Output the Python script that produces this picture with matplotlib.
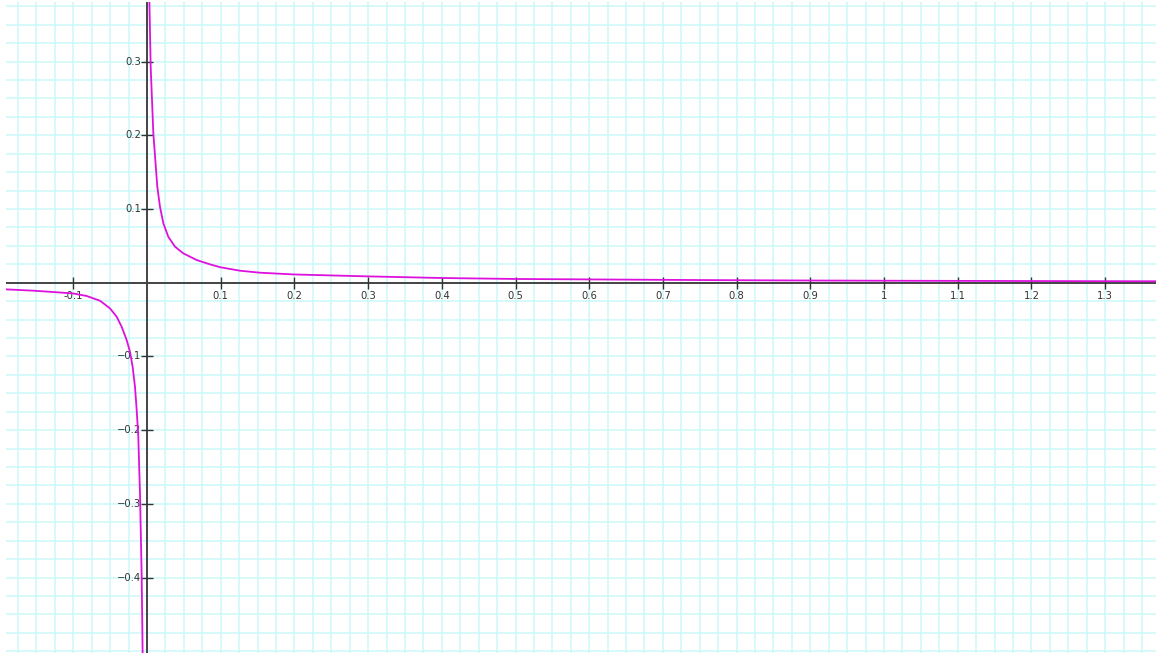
import matplotlib
matplotlib.use("Agg")
import matplotlib.pyplot as plt
from matplotlib.ticker import MultipleLocator

# curve, two branches either side of x = 0
neg_x = [-0.1913, -0.1542, -0.1271, -0.1000, -0.0819, -0.0638, -0.0502, -0.0412,
         -0.0344, -0.0276, -0.0231, -0.0195, -0.0163, -0.0140, -0.0118, -0.0095,
         -0.0072, -0.0059]
neg_y = [-0.0090, -0.0108, -0.0126, -0.0146, -0.0180, -0.0244, -0.0348, -0.0461,
         -0.0597, -0.0777, -0.0936, -0.1139, -0.1411, -0.1727, -0.2089, -0.2858,
         -0.3989, -0.5050]

pos_x = [0.0031, 0.0041, 0.0050, 0.0068, 0.0086, 0.0113, 0.0140, 0.0176, 0.0222,
         0.0289, 0.0380, 0.0493, 0.0674, 0.0855, 0.1000, 0.1262, 0.1533, 0.2,
         0.3, 0.4, 0.5, 0.6, 0.7, 0.8, 0.9, 1.0, 1.1, 1.2, 1.3, 1.37]
pos_y = [0.3900, 0.3384, 0.2931, 0.2479, 0.2027, 0.1665, 0.1303, 0.1032, 0.0806,
         0.0624, 0.0489, 0.0398, 0.0308, 0.0249, 0.0209, 0.0163, 0.0136, 0.0112,
         0.0086, 0.0064, 0.0051, 0.0045, 0.0039, 0.0034, 0.0030, 0.0027, 0.0025,
         0.0023, 0.0021, 0.0020]

x_ticks = [-0.1, 0.1, 0.2, 0.3, 0.4, 0.5, 0.6, 0.7, 0.8, 0.9, 1.0, 1.1, 1.2, 1.3]
x_labels = ["-0.1", "0.1", "0.2", "0.3", "0.4", "0.5", "0.6", "0.7", "0.8", "0.9",
            "1", "1.1", "1.2", "1.3"]
y_ticks = [0.3, 0.2, 0.1, -0.1, -0.2, -0.3, -0.4]
y_labels = ["0.3", "0.2", "0.1", "\u22120.1", "\u22120.2", "\u22120.3", "\u22120.4"]

W, H = 1156, 656
fig = plt.figure(figsize=(W / 100, H / 100), dpi=100)
ax = fig.add_axes([6 / W, 3 / H, 1150 / W, 651 / H])
ax.set_xlim(-0.1913, 1.369)
ax.set_ylim(-0.5024, 0.3809)

for s in ax.spines.values():
    s.set_visible(False)
ax.xaxis.set_major_locator(MultipleLocator(0.025))
ax.yaxis.set_major_locator(MultipleLocator(0.025))
ax.tick_params(length=0, labelbottom=False, labelleft=False)
ax.grid(True, color="#cbf8f8", lw=1.1)
ax.set_axisbelow(True)

ax.axhline(0, color="#444444", lw=1.4, zorder=2)
ax.axvline(0, color="#444444", lw=1.4, zorder=2)

# tick marks crossing the axes
ax.plot(x_ticks, [0] * len(x_ticks), ls="none", marker="|", ms=8, mew=1.0,
        color="#333333", zorder=3)
ax.plot([0] * len(y_ticks), y_ticks, ls="none", marker="_", ms=8, mew=1.0,
        color="#333333", zorder=3)

for xv, lab in zip(x_ticks, x_labels):
    ax.annotate(lab, (xv, 0), xytext=(0, -8), textcoords="offset pixels",
                ha="center", va="top", fontsize=7.2, color="#333333", zorder=3)
for yv, lab in zip(y_ticks, y_labels):
    ax.annotate(lab, (0, yv), xytext=(-6, 0), textcoords="offset pixels",
                ha="right", va="center", fontsize=7.2, color="#333333", zorder=3)

ax.plot(neg_x, neg_y, color="#dd11dd", lw=1.3, zorder=4, solid_joinstyle="round")
ax.plot(pos_x, pos_y, color="#dd11dd", lw=1.3, zorder=4, solid_joinstyle="round")

fig.savefig("out.png", dpi=100)
